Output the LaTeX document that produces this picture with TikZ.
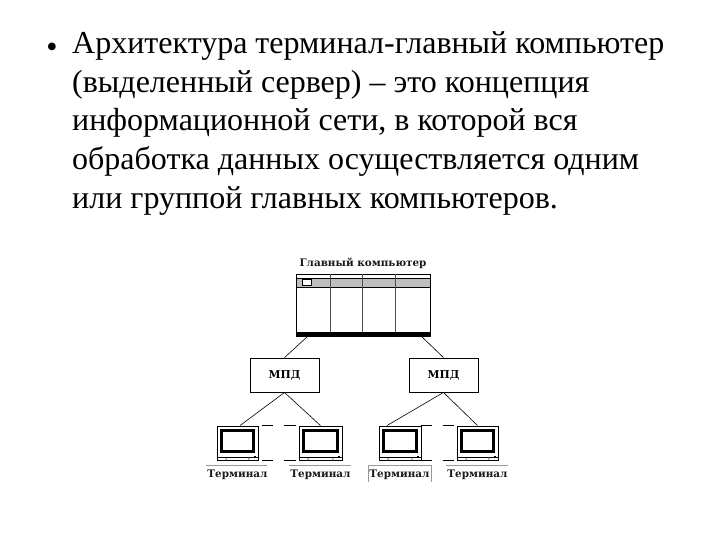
\documentclass[tikz,border=0pt]{standalone}
\usepackage{fontspec}
\setmainfont{Liberation Serif}
\newfontfamily\lblfont{DejaVu Serif}
\usetikzlibrary{calc}
\definecolor{bandgrey}{gray}{0.75}
\definecolor{softline}{gray}{0.6}
\definecolor{frameline}{gray}{0.2}
\tikzset{
  x=1pt,y=-1pt,
  bodytext/.style={anchor=north west,inner sep=0pt,align=flush left,text width=640pt,font=\fontsize{32}{38.9}\selectfont},
  bullettext/.style={anchor=base,inner sep=0pt,font=\fontsize{32}{39}\selectfont},
  caption/.style={inner sep=0pt,font=\lblfont\bfseries\fontsize{10.4}{12}\selectfont,text=black!90},
  mpdbox/.style={draw=black,line width=0.9pt,minimum width=69pt,minimum height=34pt,inner sep=0pt,font=\lblfont\bfseries\fontsize{10.8}{12}\selectfont},
  termbox/.style={draw=black,line width=0.9pt,minimum height=34pt,inner sep=0pt},
  host/.style={draw=black,line width=0.9pt,minimum width=134pt,minimum height=62pt,inner sep=0pt},
  wire/.style={draw=black,line width=0.6pt},
  gapdash/.style={draw=black,line width=0.8pt},
  softrule/.style={draw=softline,line width=0.8pt},
}
\newcommand{\screen}[1]{%
  \draw[line width=3pt,draw=black] ($(#1.north west)+(5,5)$) rectangle ($(#1.north east)+(-5,26)$);
  \draw[line width=0.7pt] ($(#1.south west)+(0,-3.2)$) -- ($(#1.south east)+(0,-3.2)$);
  \draw[line width=0.6pt,draw=frameline] ($(#1.south west)+(9,-3.2)$) -- ($(#1.south west)+(10,0)$);
  \draw[line width=0.6pt,draw=frameline] ($(#1.south east)+(-9,-3.2)$) -- ($(#1.south east)+(-10,0)$);
  \fill ($(#1.south east)+(-4.5,-4.8)$) rectangle ($(#1.south east)+(-2.2,-3)$);
}
\begin{document}
\begin{tikzpicture}
\useasboundingbox (0,0) rectangle (720,540);
\node[bullettext] (bullet) at (52,58) {•};
\node[bodytext] (para) at (72,31) {Архитектура терминал-главный компьютер\\(выделенный сервер) – это концепция\\информационной сети, в которой вся\\обработка данных осуществляется одним\\или группой главных компьютеров.};

\node[caption] (hostcap) at (363,263) {Главный компьютер};
% host
\fill[bandgrey] (296,278) rectangle (430,287);
\node[host] (host) at (363,305) {};
\draw[line width=0.9pt] (296,278) -- (430,278) (296,287) -- (430,287);
\foreach \xx in {330,362,395}{\draw[line width=1pt,draw=black!70] (\xx,274) -- (\xx,333);}
\fill (295.5,332) rectangle (430.5,336.5);
\node[draw=black,fill=white,line width=0.8pt,minimum width=9pt,minimum height=6pt,inner sep=0pt] (hostbtn) at (307,282) {};

\node[mpdbox] (m1) at (284.5,375) {\raisebox{-1.5pt}{МПД}};
\node[mpdbox] (m2) at (443.5,375) {\raisebox{-1.5pt}{МПД}};

\node[termbox,minimum width=41pt] (t1) at (237.5,443) {};
\node[termbox,minimum width=43pt] (t2) at (320.5,443) {};
\node[termbox,minimum width=42pt] (t3) at (400,443) {};
\node[termbox,minimum width=41pt] (t4) at (477.5,443) {};
\screen{t1}\screen{t2}\screen{t3}\screen{t4}

\draw[wire] ($(host.south)+(-56,0.5)$) -- (m1.north);
\draw[wire] ($(host.south)+(59,0.5)$) -- (m2.north);
\draw[wire] (m1.south) -- ($(t1.north)+(2.5,0)$);
\draw[wire] (m1.south) -- (t2.north);
\draw[wire] (m2.south) -- ($(t3.north)+(-13,0)$);
\draw[wire] (m2.south) -- (t4.north);

\foreach \tag in {north,south}{
  \draw[gapdash] ($(t1.\tag\space east)+(4,0)$) -- ($(t1.\tag\space east)+(15,0)$);
  \draw[gapdash] ($(t2.\tag\space west)+(-15,0)$) -- ($(t2.\tag\space west)+(-3,0)$);
  \draw[gapdash] (t3.\tag\space east) -- ($(t3.\tag\space east)+(11,0)$);
  \draw[gapdash] ($(t4.\tag\space west)+(-14,0)$) -- ($(t4.\tag\space west)+(-3,0)$);
}

\draw[softrule] (206,465) -- (267,465);
\draw[softrule] (289,465) -- (351,465);
\draw[softrule] (368,482) -- (368,465) -- (431,465) -- (431,482);
\draw[softrule] (446,465) -- (508,465);
\node[caption] (c1) at (237.5,474.5) {Терминал};
\node[caption] (c2) at (320.5,474.5) {Терминал};
\node[caption] (c3) at (399.5,474.5) {Терминал};
\node[caption] (c4) at (477.5,474.5) {Терминал};
\end{tikzpicture}
\end{document}
